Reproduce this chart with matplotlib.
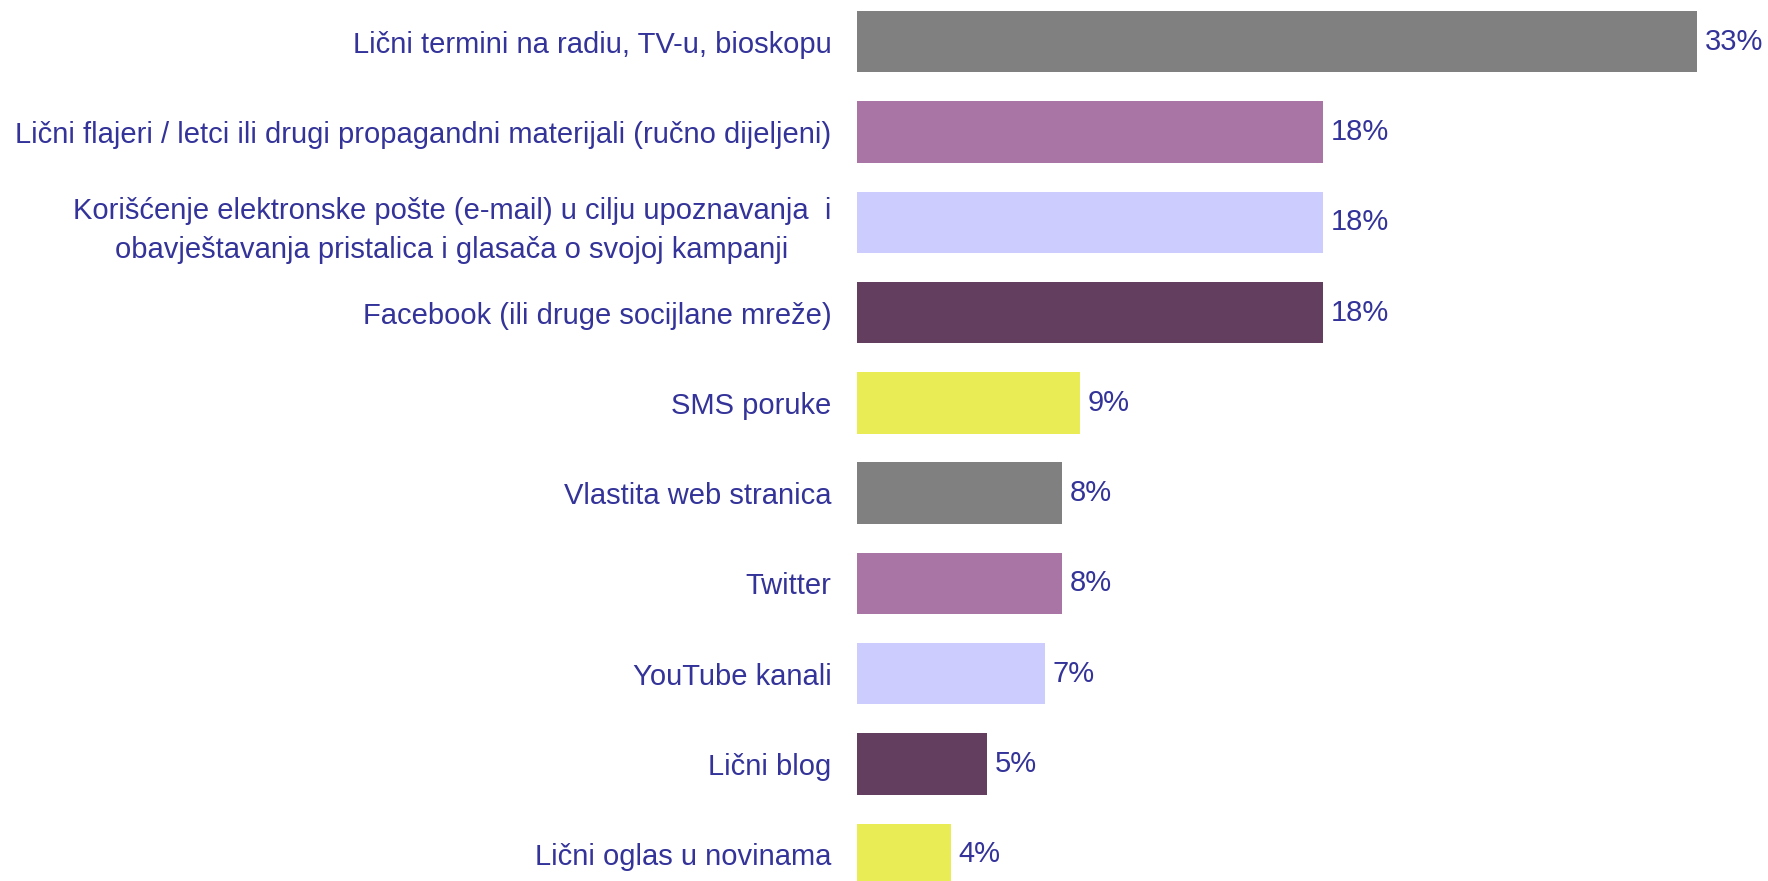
import matplotlib
matplotlib.use("Agg")
import matplotlib.pyplot as plt

# podaci procitani sa grafika
kategorije = [
    "Lični termini na radiu, TV-u, bioskopu",
    "Lični flajeri / letci ili drugi propagandni materijali (ručno dijeljeni)",
    "Korišćenje elektronske pošte (e-mail) u cilju upoznavanja  i\nobavještavanja pristalica i glasača o svojoj kampanji",
    "Facebook (ili druge socijlane mreže)",
    "SMS poruke",
    "Vlastita web stranica",
    "Twitter",
    "YouTube kanali",
    "Lični blog",
    "Lični oglas u novinama",
]
vrijednosti = [33.0, 18.3, 18.3, 18.3, 8.75, 8.05, 8.05, 7.4, 5.1, 3.7]
boje = ["#808080", "#A975A5", "#CCCCFF", "#633E5F", "#E9EC55",
        "#808080", "#A975A5", "#CCCCFF", "#633E5F", "#E9EC55"]

plava = "#333399"
plt.rcParams['font.family'] = ['Liberation Sans', 'DejaVu Sans']

fig = plt.figure(figsize=(17.68, 8.81), dpi=100)
ax = fig.add_axes([857 / 1768, 0, (35 * 25.45) / 1768, 1])

poz = list(range(len(kategorije)))
ax.barh(poz, vrijednosti, height=0.68, color=boje, left=0)

for i, v in enumerate(vrijednosti):
    ax.text(v + 0.3, i, f"{round(v)}%", va="center", ha="left",
            fontsize=21, color=plava)

ax.set_yticks(poz)
ax.set_yticklabels(kategorije, fontsize=21, color=plava, linespacing=1.5,
                   multialignment="center")
ax.tick_params(axis="y", length=0, pad=18.5)
ax.set_xticks([])
ax.set_xlim(0, 35)
ax.set_ylim(9.295, -0.462)
for s in ax.spines.values():
    s.set_visible(False)

fig.savefig("out.png", dpi=100)
